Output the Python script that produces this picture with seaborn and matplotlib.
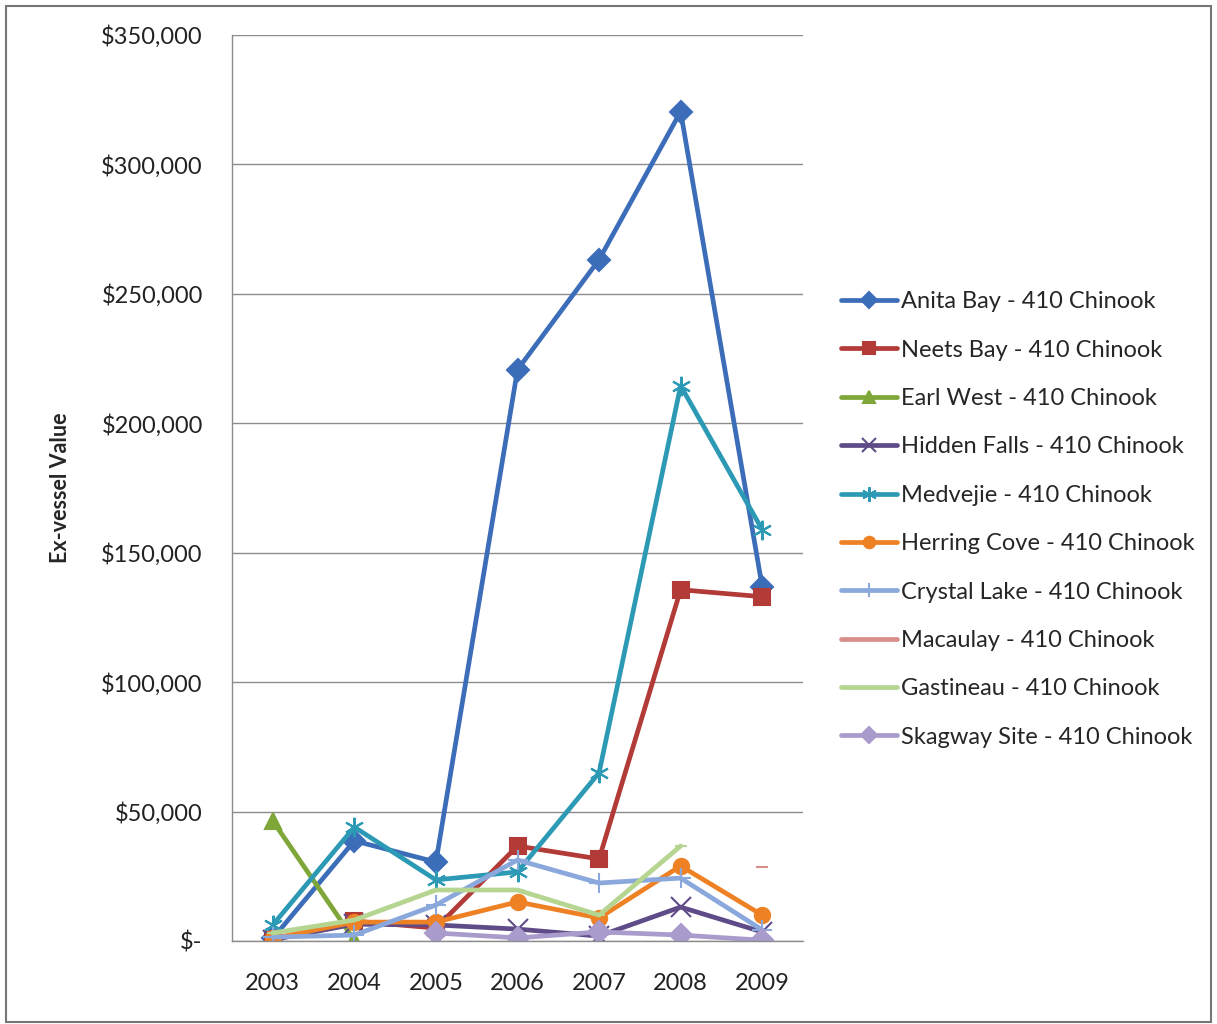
import numpy as np
import pandas as pd
import matplotlib.pyplot as plt
import matplotlib.ticker as mticker
from matplotlib.patches import Rectangle
import seaborn as sns

years = [2003, 2004, 2005, 2006, 2007, 2008, 2009]
nan = np.nan

anita_bay = [1000, 38700, 30500, 220700, 263200, 320400, 136800]
neets_bay = [500, 7700, 5000, 36700, 31700, 135700, 133000]
earl_west = [46400, 300, nan, nan, nan, nan, nan]
hidden_falls = [500, 6500, 6200, 4600, 1900, 13100, 3500]
medvejie = [6200, 44000, 23600, 26700, 65000, 214500, 158900]
herring_cove = [1000, 7300, 7300, 15100, 8900, 29000, 10000]
crystal_lake = [1500, 2300, 13900, 31300, 22400, 24300, 4300]
macaulay = [nan, nan, nan, nan, nan, nan, 28600]
gastineau = [3100, 8100, 19700, 19700, 10000, 36700, nan]
skagway = [nan, nan, 3100, 1200, 3500, 2300, 300]

series = [
    ("Anita Bay - 410 Chinook", anita_bay, "#3C6DB9", "D"),
    ("Neets Bay - 410 Chinook", neets_bay, "#B23A37", "s"),
    ("Earl West - 410 Chinook", earl_west, "#7FA638", "^"),
    ("Hidden Falls - 410 Chinook", hidden_falls, "#5E4B87", "x"),
    ("Medvejie - 410 Chinook", medvejie, "#2D9AB5", (6, 2, 0)),
    ("Herring Cove - 410 Chinook", herring_cove, "#EE8123", "o"),
    ("Crystal Lake - 410 Chinook", crystal_lake, "#8AA8DC", "+"),
    ("Macaulay - 410 Chinook", macaulay, "#D98E8C", "_"),
    ("Gastineau - 410 Chinook", gastineau, "#B5D591", "_"),
    ("Skagway Site - 410 Chinook", skagway, "#A99BCB", "D"),
]

sns.set_style("white")
plt.rcParams["font.family"] = ["Lato", "DejaVu Sans"]

fig = plt.figure(figsize=(12.17, 10.24), dpi=100)
ax = fig.add_axes([232 / 1217, 1 - 941 / 1024, (803 - 232) / 1217, (941 - 35) / 1024])

for name, vals, color, mk in series:
    df = pd.DataFrame({"Year": years, "Value": vals}).dropna()
    ms = 11
    if mk in ("x", "+", (6, 2, 0)):
        ms = 14
    if mk == "_":
        ms = 8
    sns.lineplot(data=df, x="Year", y="Value", ax=ax, color=color, linewidth=3.4,
                 marker=mk, markersize=ms, markeredgecolor=color, markeredgewidth=1.5,
                 label=name, legend=False)

ax.set_xlim(2002.5, 2009.5)
ax.set_ylim(0, 350000)
ax.set_xticks(years)
ax.set_xticklabels([str(y) for y in years])
ax.set_yticks(np.arange(0, 350001, 50000))
ax.yaxis.set_major_formatter(mticker.FuncFormatter(
    lambda v, p: "$-" if v == 0 else f"${v:,.0f}"))
ax.tick_params(axis="both", length=0, labelsize=17, colors="#222222")
ax.tick_params(axis="x", pad=23)
ax.tick_params(axis="y", pad=21)
ax.grid(axis="y", color="#8c8c8c", linewidth=1)
ax.set_axisbelow(True)
for s in ["top", "right"]:
    ax.spines[s].set_visible(False)
for s in ["left", "bottom"]:
    ax.spines[s].set_color("#8c8c8c")
    ax.spines[s].set_linewidth(1)
ax.set_xlabel("")
ax.set_ylabel("Ex-vessel Value", fontsize=15.5, fontweight="bold", labelpad=22)

handles, labels = ax.get_legend_handles_labels()
fig.legend(handles, labels, loc="upper left", bbox_to_anchor=(820 / 1217, 1 - 270 / 1024),
           frameon=False, fontsize=17, labelspacing=1.16, handlelength=2.35,
           handletextpad=0.2, markerscale=0.75)

fig.patches.append(Rectangle((6 / 1217, 0.002), 1 - 12 / 1217, 1 - 8 / 1024,
                             transform=fig.transFigure, fill=False,
                             edgecolor="#777777", linewidth=1.5))

fig.savefig("out.png", dpi=100)
